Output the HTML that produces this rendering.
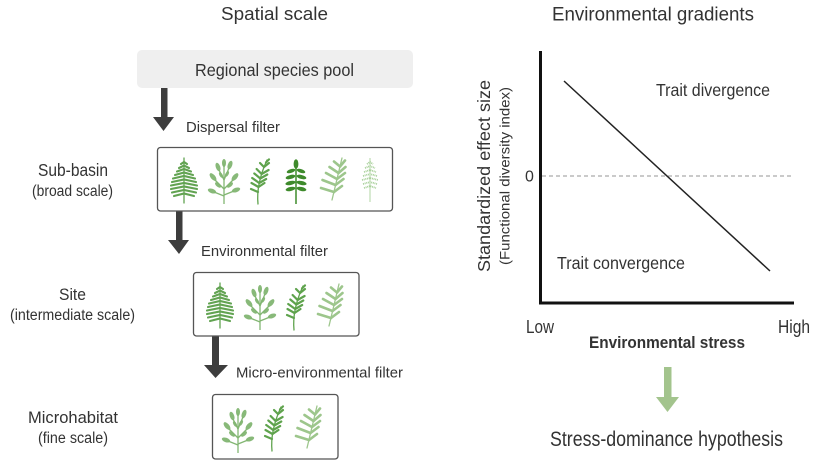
<!DOCTYPE html>
<html><head><meta charset="utf-8"><style>
html,body{margin:0;padding:0;background:#fff;}
svg{display:block;}
text{font-family:"Liberation Sans",sans-serif;fill:#333;}
</style></head><body>
<svg width="827" height="463" viewBox="0 0 827 463" xmlns="http://www.w3.org/2000/svg">
<defs>
<g id="fern" stroke="#62a352" fill="none" stroke-linecap="round">
  <line x1="0" y1="1" x2="0" y2="-44" stroke-width="1.3"/>
  <g stroke-width="2.1">
    <path d="M-3,-38 L0,-40 L3,-38"/>
    <path d="M-5,-34 L0,-36.5 L5,-34"/>
    <path d="M-7,-30.5 L0,-33 L7,-30.5"/>
    <path d="M-9,-27 L0,-29.5 L9,-27"/>
    <path d="M-11,-23.5 L0,-26 L11,-23.5"/>
    <path d="M-12,-20 L0,-22.5 L12,-20"/>
    <path d="M-13,-16.5 L0,-19 L13,-16.5"/>
    <path d="M-13,-13 L0,-15.5 L13,-13"/>
    <path d="M-12,-9.5 L0,-12 L12,-9.5"/>
    <path d="M-10,-6 L0,-8.5 L10,-6"/>
  </g>
</g>
<g id="bushy" fill="#82b672" stroke="#82b672">
  <g fill="none" stroke-width="1.3">
    <path d="M0,0 L0,-24"/>
    <path d="M0,-15 L-9,-24"/>
    <path d="M0,-15 L9,-24"/>
    <path d="M0,-24 L-5,-34"/>
    <path d="M0,-24 L5,-36"/>
    <path d="M0,-24 L0,-40"/>
    <path d="M0,-8 L-10,-12"/>
    <path d="M0,-9 L10,-13"/>
  </g>
  <g stroke="none" opacity="0.95">
    <ellipse cx="-11" cy="-27" rx="2.3" ry="4.6" transform="rotate(-40 -11 -27)"/>
    <ellipse cx="11" cy="-27" rx="2.3" ry="4.6" transform="rotate(40 11 -27)"/>
    <ellipse cx="-6" cy="-37" rx="2.2" ry="4.4" transform="rotate(-20 -6 -37)"/>
    <ellipse cx="6" cy="-39" rx="2.2" ry="4.4" transform="rotate(20 6 -39)"/>
    <ellipse cx="0" cy="-41" rx="2" ry="4"/>
    <ellipse cx="-12" cy="-13" rx="2.2" ry="4.4" transform="rotate(-70 -12 -13)"/>
    <ellipse cx="12" cy="-14" rx="2.2" ry="4.4" transform="rotate(70 12 -14)"/>
    <ellipse cx="-6" cy="-19" rx="1.8" ry="3.6" transform="rotate(-50 -6 -19)"/>
    <ellipse cx="6" cy="-19" rx="1.8" ry="3.6" transform="rotate(50 6 -19)"/>
    <ellipse cx="-3" cy="-29" rx="1.6" ry="3.2" transform="rotate(-30 -3 -29)"/>
    <ellipse cx="3" cy="-30" rx="1.6" ry="3.2" transform="rotate(30 3 -30)"/>
  </g>
</g>
<g id="sprig" stroke="#5fa34d" fill="none" stroke-linecap="round">
  <path d="M-3,0 Q-5,-20 6,-44" stroke-width="1.3"/>
  <g stroke-width="2.2">
    <path d="M-3,-12 l-7,-3"/>
    <path d="M-2.5,-17 l-7,-4"/>
    <path d="M-1.8,-21 l-7,-5"/>
    <path d="M-0.7,-25.5 l-6,-5"/>
    <path d="M0.6,-30 l-5,-5"/>
    <path d="M3,-37 l-4,-4"/>
    <path d="M-2.5,-17 l6,-4"/>
    <path d="M-1.8,-21 l7,-4"/>
    <path d="M-0.7,-25.5 l7,-4"/>
    <path d="M0.6,-30 l7,-4"/>
    <path d="M3,-37 l5,-4"/>
    <path d="M5,-41.6 l3,-3"/>
  </g>
</g>
<g id="dark" fill="#3e8a2b" stroke="#3e8a2b">
  <line x1="0" y1="0" x2="0" y2="-42" stroke-width="1.5"/>
  <g stroke="none">
    <ellipse cx="0" cy="-40" rx="2.4" ry="4.8"/>
    <ellipse cx="-5" cy="-33" rx="4.5" ry="1.9" transform="rotate(-18 -5 -33)"/>
    <ellipse cx="5" cy="-33" rx="4.5" ry="1.9" transform="rotate(18 5 -33)"/>
    <ellipse cx="-5.5" cy="-27" rx="5" ry="2" transform="rotate(-15 -5.5 -27)"/>
    <ellipse cx="5.5" cy="-27" rx="5" ry="2" transform="rotate(15 5.5 -27)"/>
    <ellipse cx="-5.5" cy="-21" rx="5.2" ry="2" transform="rotate(-12 -5.5 -21)"/>
    <ellipse cx="5.5" cy="-21" rx="5.2" ry="2" transform="rotate(12 5.5 -21)"/>
    <ellipse cx="-5.5" cy="-15" rx="5" ry="2" transform="rotate(-12 -5.5 -15)"/>
    <ellipse cx="5.5" cy="-15" rx="5" ry="2" transform="rotate(12 5.5 -15)"/>
  </g>
</g>
<g id="willow" stroke="#9dc68c" fill="none" stroke-linecap="round">
  <path d="M-2,0 L8,-42" stroke-width="1.3"/>
  <g stroke-width="2.6">
    <path d="M0,-8 l-13,-4"/>
    <path d="M1.5,-15 l-13,-5"/>
    <path d="M3,-21 l-11,-6"/>
    <path d="M4.5,-27 l-9,-6"/>
    <path d="M6,-33.5 l-6,-5"/>
    <path d="M0,-8 l8,-6"/>
    <path d="M1.5,-15 l8,-6"/>
    <path d="M3,-21 l8,-6"/>
    <path d="M4.5,-27 l7,-6"/>
    <path d="M6,-33.5 l5,-6"/>
  </g>
</g>
<g id="fine" stroke="#a8d09a" fill="none">
  <line x1="0" y1="0" x2="0" y2="-44" stroke-width="0.9"/>
  <g stroke-width="1.8" stroke-dasharray="1 0.7">
    <path d="M-3,-38 L0,-40 L3,-38"/>
    <path d="M-5,-34 L0,-36 L5,-34"/>
    <path d="M-6,-30 L0,-32 L6,-30"/>
    <path d="M-7,-26 L0,-28 L7,-26"/>
    <path d="M-8,-22 L0,-24 L8,-22"/>
    <path d="M-7,-18 L0,-20 L7,-18"/>
    <path d="M-6,-14 L0,-16 L6,-14"/>
  </g>
</g>
</defs>

<!-- Titles -->
<text x="221" y="20" font-size="18.5" textLength="107" lengthAdjust="spacingAndGlyphs" fill="#222">Spatial scale</text>
<text x="552" y="20.5" font-size="19.5" textLength="202" lengthAdjust="spacingAndGlyphs" fill="#222">Environmental gradients</text>

<!-- Regional species pool -->
<rect x="137" y="50" width="276" height="38" rx="5" fill="#efefef"/>
<text x="195" y="76" font-size="17.5" textLength="159" lengthAdjust="spacingAndGlyphs">Regional species pool</text>

<!-- Arrows -->
<g fill="#3d3d3d">
  <rect x="161" y="88" width="6.5" height="30"/>
  <polygon points="153,117 174,117 163.5,131"/>
  <rect x="176" y="211" width="6.5" height="30"/>
  <polygon points="168,240 189,240 179,254"/>
  <rect x="212" y="336" width="7" height="30"/>
  <polygon points="204,365 228,365 215.5,378"/>
</g>

<text x="186" y="132" font-size="15" textLength="94" lengthAdjust="spacingAndGlyphs">Dispersal filter</text>
<text x="201" y="256" font-size="15" textLength="127" lengthAdjust="spacingAndGlyphs">Environmental filter</text>
<text x="236" y="377.5" font-size="15" textLength="167" lengthAdjust="spacingAndGlyphs">Micro-environmental filter</text>

<!-- Scale labels -->
<text x="73" y="176" font-size="17.5" text-anchor="middle" textLength="70" lengthAdjust="spacingAndGlyphs">Sub-basin</text>
<text x="72.5" y="196" font-size="15.5" text-anchor="middle" textLength="81" lengthAdjust="spacingAndGlyphs">(broad scale)</text>
<text x="72.5" y="300" font-size="16.5" text-anchor="middle" textLength="27" lengthAdjust="spacingAndGlyphs">Site</text>
<text x="72.5" y="320" font-size="15.5" text-anchor="middle" textLength="125" lengthAdjust="spacingAndGlyphs">(intermediate scale)</text>
<text x="73" y="423" font-size="16.5" text-anchor="middle" textLength="90" lengthAdjust="spacingAndGlyphs">Microhabitat</text>
<text x="73" y="443" font-size="15.5" text-anchor="middle" textLength="70" lengthAdjust="spacingAndGlyphs">(fine scale)</text>

<!-- Boxes -->
<g fill="#fff" stroke="#555" stroke-width="1.3">
  <rect x="157.5" y="147.5" width="235" height="63.5" rx="3"/>
  <rect x="193.5" y="272.5" width="165.5" height="63.5" rx="3"/>
  <rect x="212.5" y="394.5" width="125.5" height="64.5" rx="3"/>
</g>

<!-- Plants: sub-basin -->
<use href="#fern" x="184" y="202"/>
<use href="#bushy" x="224" y="204"/>
<use href="#sprig" x="261" y="204"/>
<use href="#dark" x="296" y="204"/>
<use href="#willow" x="334" y="200"/>
<use href="#fine" x="370" y="202"/>

<!-- Plants: site -->
<use href="#fern" x="220" y="327"/>
<use href="#bushy" x="260" y="330"/>
<use href="#sprig" x="297" y="330"/>
<use href="#willow" x="331" y="326"/>

<!-- Plants: microhabitat -->
<use href="#bushy" x="238" y="453"/>
<use href="#sprig" x="275" y="451"/>
<use href="#willow" x="309" y="448"/>

<!-- Chart -->
<line x1="542" y1="176" x2="794" y2="176" stroke="#aaa" stroke-width="1.2" stroke-dasharray="4 3"/>
<path d="M540.5,51 L540.5,303 L794,303" fill="none" stroke="#111" stroke-width="3"/>
<line x1="564" y1="81" x2="770" y2="271" stroke="#222" stroke-width="1.5"/>

<text x="529.5" y="181.5" font-size="16" text-anchor="middle" fill="#444">0</text>
<text x="656" y="96" font-size="17.5" textLength="114" lengthAdjust="spacingAndGlyphs">Trait divergence</text>
<text x="557" y="269" font-size="17.5" textLength="128" lengthAdjust="spacingAndGlyphs">Trait convergence</text>
<text x="526" y="333" font-size="18" textLength="28" lengthAdjust="spacingAndGlyphs">Low</text>
<text x="778" y="333" font-size="18" textLength="32" lengthAdjust="spacingAndGlyphs">High</text>
<text x="589" y="348" font-size="17" font-weight="bold" textLength="156" lengthAdjust="spacingAndGlyphs" fill="#222">Environmental stress</text>

<text transform="translate(490,176) rotate(-90)" x="0" y="0" font-size="17.5" text-anchor="middle" textLength="192" lengthAdjust="spacingAndGlyphs" fill="#222">Standardized effect size</text>
<text transform="translate(509.5,176) rotate(-90)" x="0" y="0" font-size="14" text-anchor="middle" textLength="178" lengthAdjust="spacingAndGlyphs" fill="#222">(Functional diversity index)</text>

<!-- Green arrow -->
<g fill="#a3c48d">
  <rect x="664" y="367" width="7.5" height="31"/>
  <polygon points="656,397 679,397 667.5,412"/>
</g>
<text x="550" y="446" font-size="21" textLength="233" lengthAdjust="spacingAndGlyphs">Stress-dominance hypothesis</text>
</svg>
</body></html>
